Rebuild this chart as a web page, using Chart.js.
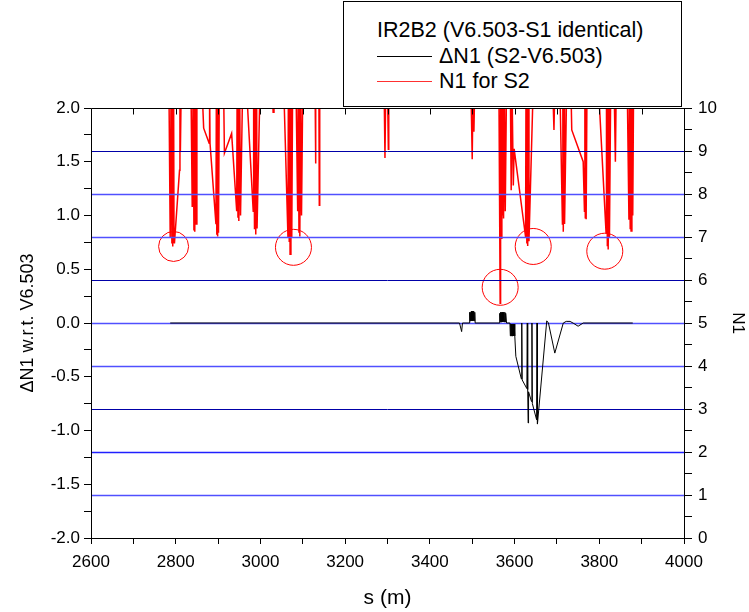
<!DOCTYPE html>
<html><head><meta charset="utf-8">
<script src="https://cdn.jsdelivr.net/npm/chart.js@4.4.1/dist/chart.umd.min.js"></script>
<style>
html,body{margin:0;padding:0;background:#fff;}
#wrap{position:relative;width:749px;height:612px;overflow:hidden;}
#c{position:absolute;left:0;top:0;}
#leg{position:absolute;left:343px;top:1px;width:337px;height:104px;border:1px solid #000;background:#fff;font-family:'Liberation Sans',Arial,sans-serif;font-size:21.5px;color:#000;}
#leg .t{position:absolute;white-space:nowrap;line-height:24px;}
#leg .l{position:absolute;left:33px;width:55px;height:0;border-top:1px solid;}
</style></head>
<body>
<div id="wrap">
<canvas id="c" width="749" height="612"></canvas>
<div id="leg">
  <div class="t" style="left:33px;top:16px;">IR2B2 (V6.503-S1 identical)</div>
  <div class="l" style="top:54px;border-color:#000;"></div>
  <div class="t" style="left:95px;top:42px;">ΔN1 (S2-V6.503)</div>
  <div class="l" style="top:79px;border-color:#ff3030;"></div>
  <div class="t" style="left:95px;top:67px;">N1 for S2</div>
</div>
</div>
<script>
// ---- tick labels ----
const xTickLabels = [2600, 2800, 3000, 3200, 3400, 3600, 3800, 4000];
const leftTickLabels = ['-2.0', '-1.5', '-1.0', '-0.5', '0.0', '0.5', '1.0', '1.5', '2.0'];
const rightTickLabels = [0, 1, 2, 3, 4, 5, 6, 7, 8, 9, 10];
// horizontal reference levels on the N1 axis
const levelN1 = [1, 2, 3, 4, 5, 6, 7, 8, 9];

// ---- N1 for S2 (right axis); values above 10 run off the top of the frame ----
const redS = [
  2784, 2787, 2789, 2791, 2792, 2793, 2795, 2796, 2797, 2809, 2810, 2811, 2813, 2826,
  2836, 2839, 2841, 2843, 2844, 2845, 2847, 2848, 2850,
  2862, 2866, 2879, 2880, 2881, 2895, 2896, 2897, 2898, 2899, 2900, 2901, 2903,
  2913, 2915, 2932, 2944, 2945, 2947, 2948, 2949, 2951, 2953, 2958,
  2967, 2983, 2984, 2986, 2987, 2989, 2991, 2992, 2999,
  3028, 3030, 3032,
  3055, 3065, 3066, 3068, 3069, 3070, 3072, 3074, 3076,
  3084, 3088, 3089, 3091, 3092, 3093, 3095, 3097, 3100,
  3129, 3130, 3131, 3138, 3139, 3140,
  3292, 3294, 3296, 3300, 3302, 3303,
  3497, 3500, 3502, 3504, 3506,
  3563, 3566, 3567, 3569, 3570, 3572, 3573, 3574, 3576, 3578, 3581,
  3590, 3592, 3594, 3597, 3599, 3626, 3627, 3629, 3630, 3631, 3633, 3634, 3644,
  3690, 3693, 3695,
  3707, 3713, 3714, 3715, 3717, 3718, 3723,
  3733, 3735, 3762, 3765, 3766, 3767, 3768, 3769, 3771, 3774,
  3798, 3816, 3817, 3819, 3820, 3821, 3823, 3824, 3827,
  3835, 3838, 3840,
  3866, 3870, 3871, 3873, 3874, 3875, 3877, 3879, 3881
];
const redN1 = [
  10.5, 7.0, 10.5, 6.85, 10.5, 6.78, 10.5, 6.9, 6.85, 8.55, 10.5, 8.98, 10.5, 10.5,
  10.5, 7.7, 10.5, 7.15, 10.5, 7.12, 10.5, 7.3, 10.5,
  10.5, 9.53, 9.18, 10.5, 9.18, 7.3, 10.5, 7.05, 10.5, 7.01, 10.5, 7.1, 10.5,
  10.5, 8.95, 9.41, 7.6, 10.5, 7.45, 10.5, 7.37, 10.5, 7.5, 10.5,
  10.5, 7.6, 10.5, 7.2, 10.5, 7.06, 10.5, 7.2, 10.5,
  10.5, 9.9, 10.5,
  10.5, 7.0, 10.5, 6.9, 10.5, 6.60, 10.5, 7.0, 10.5,
  10.5, 7.6, 10.5, 7.1, 10.5, 7.01, 10.5, 7.5, 10.5,
  10.5, 8.71, 10.5, 10.5, 7.74, 10.5,
  10.5, 8.84, 10.5, 10.5, 9.04, 10.5,
  10.5, 8.81, 10.5, 9.45, 10.5,
  10.5, 5.46, 10.5, 6.97, 10.5, 7.5, 10.5, 7.43, 10.5, 7.6, 10.5,
  10.5, 8.09, 10.5, 8.2, 9.05, 7.0, 10.5, 6.85, 10.5, 6.79, 10.5, 6.9, 10.5,
  10.5, 9.49, 10.5,
  10.5, 7.3, 10.5, 7.12, 10.5, 7.3, 10.5,
  10.5, 9.49, 8.75, 7.6, 10.5, 7.45, 10.5, 7.41, 10.5, 10.5,
  10.5, 7.1, 10.5, 6.8, 10.5, 6.71, 10.5, 7.0, 10.5,
  10.5, 8.75, 10.5,
  10.5, 7.4, 10.5, 7.2, 10.5, 7.14, 10.5, 7.5, 10.5
];

// ---- ΔN1 (S2 - V6.503), left axis ----
const blackS = [
  2787, 3470, 3475, 3477, 3493, 3494, 3495, 3496, 3497, 3498, 3499, 3500, 3501, 3502, 3503, 3504, 3505, 3506, 3507,
  3564, 3565, 3566, 3567, 3568, 3569, 3570, 3571, 3572, 3573, 3574, 3575, 3576, 3577, 3578, 3579, 3581,
  3589, 3590, 3591, 3592, 3593, 3594, 3595, 3596, 3597, 3598, 3599, 3600, 3601,
  3603, 3616, 3617, 3618, 3629, 3630, 3631, 3632, 3633, 3640, 3641, 3642, 3652, 3653, 3654,
  3676, 3680, 3695, 3715, 3722, 3731, 3740, 3750, 3762, 3879
];
const blackD = [
  0, 0, -0.08, 0, 0, 0.10, 0.02, 0.10, 0.02, 0.11, 0.02, 0.11, 0.02, 0.11, 0.02, 0.10, 0.02, 0.10, 0,
  0, 0.09, 0.01, 0.10, 0.01, 0.10, 0.01, 0.10, 0.01, 0.10, 0.01, 0.10, 0.01, 0.10, 0.01, 0.09, 0,
  0, -0.12, -0.01, -0.12, -0.01, -0.12, -0.01, -0.12, -0.01, -0.12, -0.01, -0.12, -0.12,
  -0.31, -0.52, 0, -0.53, -0.61, 0, -0.62, -0.93, -0.64, -0.73, 0, -0.75, -0.9, 0, -0.94,
  0.02, 0, -0.28, 0, 0.015, 0.015, -0.005, -0.03, 0, 0
];

// ---- highlighted spots (circles), right axis ----
const circleS = [2795, 3078, 3566, 3644, 3813];
const circleN1 = [6.78, 6.76, 5.83, 6.78, 6.67];

const toPts = (xs, ys) => xs.map((x, i) => ({x: x, y: ys[i]}));

Chart.defaults.font.family = "'Liberation Sans', Arial, sans-serif";
Chart.defaults.color = '#000';

function levelStyle(v) {
  if (v === 9 || v === 6 || v === 3) return ['#0000a8', 1];
  if (v === 2) return ['#2020ff', 1.5];
  return ['#5050ff', 1.5];
}

// Blue reference levels: drawn right after the red series, below the black one
const levelsPlugin = {
  id: 'levels',
  afterDatasetDraw(chart, args) {
    if (args.index !== 1) return;
    const {ctx, chartArea} = chart;
    const yR = chart.scales.yR;
    ctx.save();
    levelN1.forEach(v => {
      const [col, w] = levelStyle(v);
      const y = Math.round(yR.getPixelForValue(v)) + 0.5;
      ctx.strokeStyle = col;
      ctx.lineWidth = w;
      ctx.beginPath();
      ctx.moveTo(chartArea.left, y);
      ctx.lineTo(chartArea.right, y);
      ctx.stroke();
    });
    ctx.restore();
  }
};

// Frame around the plot and inward ticks on the top edge
const framePlugin = {
  id: 'frame',
  afterDraw(chart) {
    const {ctx, chartArea} = chart;
    const x = chart.scales.x;
    const L = Math.round(chartArea.left) + 0.5, R = Math.round(chartArea.right) + 0.5;
    const T = Math.round(chartArea.top) + 0.5, B = Math.round(chartArea.bottom) + 0.5;
    ctx.save();
    ctx.strokeStyle = '#000';
    ctx.lineWidth = 1;
    ctx.beginPath();
    ctx.moveTo(L, T); ctx.lineTo(R, T); ctx.lineTo(R, B); ctx.lineTo(L, B); ctx.closePath();
    ctx.stroke();
    x.ticks.forEach(t => {
      const px = Math.round(x.getPixelForValue(t.value)) + 0.5;
      ctx.beginPath();
      ctx.moveTo(px, T);
      ctx.lineTo(px, T + 6);
      ctx.stroke();
    });
    ctx.restore();
  }
};

new Chart(document.getElementById('c'), {
  type: 'line',
  data: {
    datasets: [
      {
        label: 'ΔN1 (S2-V6.503)',
        data: toPts(blackS, blackD),
        yAxisID: 'yL', xAxisID: 'x',
        borderColor: '#000', borderWidth: 1, pointRadius: 0, tension: 0, fill: false, clip: 0
      },
      {
        label: 'N1 for S2',
        data: toPts(redS, redN1),
        yAxisID: 'yR', xAxisID: 'x',
        borderColor: '#ff0000', borderWidth: 1.5, pointRadius: 0, tension: 0, fill: false, clip: 0
      },
      {
        label: 'marks',
        data: toPts(circleS, circleN1),
        yAxisID: 'yR', xAxisID: 'x',
        showLine: false,
        pointStyle: 'circle',
        pointRadius: ctx => (ctx.dataIndex === 0 ? 15 : 18),
        pointBorderColor: '#ff0000', pointBorderWidth: 1,
        pointBackgroundColor: 'rgba(0,0,0,0)', clip: false
      }
    ]
  },
  plugins: [levelsPlugin, framePlugin],
  options: {
    responsive: false,
    animation: false,
    devicePixelRatio: 1,
    events: [],
    layout: { padding: { top: 108, left: 0, right: 0, bottom: 0 } },
    plugins: { legend: { display: false }, tooltip: { enabled: false } },
    scales: {
      x: {
        type: 'linear', position: 'bottom', min: 2600, max: 4000,
        ticks: {
          stepSize: 100, autoSkip: false, maxRotation: 0, padding: 8,
          font: { size: 17 },
          callback: v => (xTickLabels.includes(Math.round(v)) ? String(Math.round(v)) : '')
        },
        grid: { drawOnChartArea: false, tickLength: 6, tickColor: '#000', tickWidth: 1 },
        border: { display: false },
        title: { display: true, text: 's (m)', font: { size: 21 }, padding: { top: 0, bottom: 1 } },
        afterFit: s => { s.height = 74; }
      },
      yL: {
        type: 'linear', position: 'left', min: -2, max: 2,
        ticks: {
          stepSize: 0.25, autoSkip: false, padding: 4, font: { size: 17 },
          callback: v => {
            const idx = Math.round((v + 2) * 2);
            return Math.abs((v + 2) * 2 - idx) < 1e-6 ? leftTickLabels[idx] : '';
          }
        },
        grid: { drawOnChartArea: false, tickLength: 7, tickColor: '#000' },
        border: { display: false },
        title: { display: true, text: 'ΔN1 w.r.t. V6.503', font: { size: 18 }, padding: { top: 17, bottom: 0 } },
        afterFit: s => { s.width = 91; }
      },
      yR: {
        type: 'linear', position: 'right', min: 0, max: 10,
        ticks: {
          stepSize: 0.5, autoSkip: false, padding: 6, font: { size: 17 },
          callback: v => (Math.abs(v - Math.round(v)) < 1e-6 ? String(rightTickLabels[Math.round(v)]) : '')
        },
        grid: { drawOnChartArea: false, tickLength: 8, tickColor: '#000', tickWidth: 1 },
        border: { display: false },
        title: { display: true, text: 'N1', font: { size: 17 }, padding: { top: 1, bottom: 0 } },
        afterFit: s => { s.width = 65; }
      }
    }
  }
});
</script>
</body></html>
